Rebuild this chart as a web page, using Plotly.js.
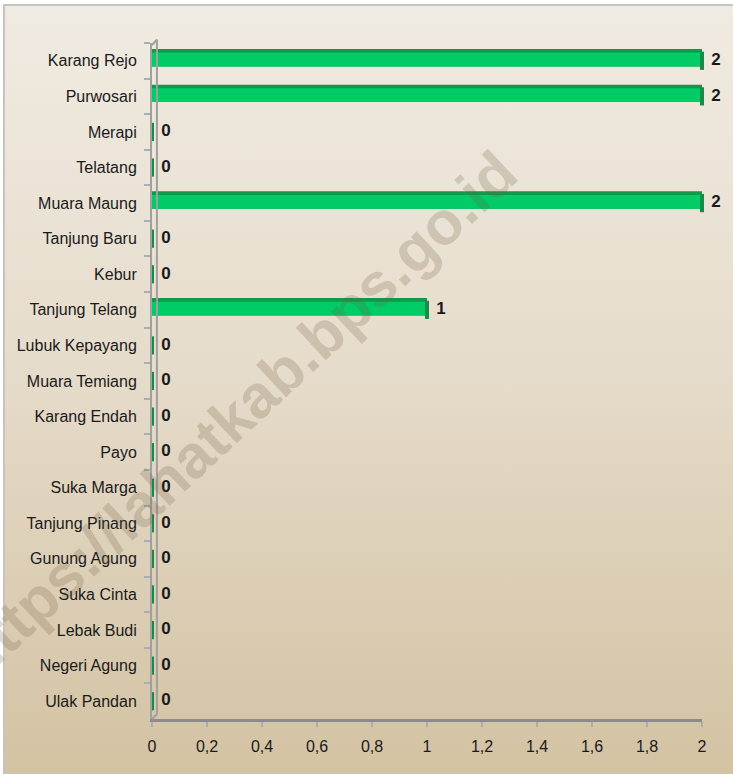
<!DOCTYPE html>
<html>
<head>
<meta charset="utf-8">
<script src="https://cdn.plot.ly/plotly-3.0.1.min.js"></script>
<style>
  html, body { margin:0; padding:0; overflow:hidden; width:733px; height:774px; background:#ffffff; }
  #bg { position:absolute; left:3px; top:4px; width:760px; height:800px; box-sizing:border-box;
        border:2px solid #C4C4C4; background:linear-gradient(to bottom, #F0EBE2 0%, #E6DCCB 45%, #D2C1A0 100%); }
  #chart { position:absolute; left:0; top:0; width:733px; height:774px; }
</style>
</head>
<body>
<div id="bg"></div>
<div id="chart"></div>
<script>
const categories = ['Karang Rejo','Purwosari','Merapi','Telatang','Muara Maung','Tanjung Baru','Kebur',
  'Tanjung Telang','Lubuk Kepayang','Muara Temiang','Karang Endah','Payo','Suka Marga','Tanjung Pinang',
  'Gunung Agung','Suka Cinta','Lebak Budi','Negeri Agung','Ulak Pandan'];
const values = [2,2,0,0,2,0,0,1,0,0,0,0,0,0,0,0,0,0,0];
const xTickVals = [0,0.2,0.4,0.6,0.8,1,1.2,1.4,1.6,1.8,2];
const xTickText = ['0','0,2','0,4','0,6','0,8','1','1,2','1,4','1,6','1,8','2'];
const watermark = 'https://lahatkab.bps.go.id';

const FONT = '"Liberation Sans Narrow", "Arial Narrow", "Liberation Sans", sans-serif';

const traces = [
  { type:'bar', orientation:'h', x:values, y:categories, width:0.49, offset:-0.33,
    marker:{color:'#0E9A4C', line:{width:0}}, hoverinfo:'skip', showlegend:false },
  { type:'bar', orientation:'h', x:values, y:categories, width:0.39, offset:-0.23,
    marker:{color:'#00CC66', line:{width:0}}, hoverinfo:'skip', showlegend:false },
  { type:'scatter', mode:'markers+text', x:values, y:categories,
    marker:{symbol:'line-ns', size:13, line:{width:4, color:'#128F46'}},
    text:values.map(String), textposition:'middle right',
    textfont:{family:FONT, size:17, color:'#1A1A1A', weight:'bold'},
    cliponaxis:false, hoverinfo:'skip', showlegend:false }
];

const layout = {
  width:733, height:774,
  margin:{l:152, r:31, t:43, b:55},
  paper_bgcolor:'rgba(0,0,0,0)', plot_bgcolor:'rgba(0,0,0,0)',
  barmode:'overlay',
  showlegend:false,
  font:{family:FONT, size:16, color:'#1A1A1A'},
  xaxis:{range:[0,2], tickvals:xTickVals, ticktext:xTickText, showgrid:false, zeroline:false,
         showline:true, linecolor:'#8C8C8C', linewidth:3, ticks:'outside', ticklen:5, tickwidth:2,
         tickcolor:'#A7AEB5', ticklabelstandoff:6, tickfont:{family:FONT, size:16, color:'#1A1A1A'}},
  yaxis:{type:'category', categoryorder:'array', categoryarray:categories, range:[18.5,-0.5],
         showgrid:false, zeroline:false, showline:true, linecolor:'#A0A0A0', linewidth:2,
         ticks:'outside', tickson:'boundaries', ticklen:6, tickwidth:2, tickcolor:'#A7AEB5',
         ticklabelstandoff:10, tickfont:{family:FONT, size:16, color:'#1A1A1A'}},
  shapes:[
    {type:'line', xref:'paper', yref:'paper', x0:0.009, x1:0.009, y0:0.007, y1:1.005, line:{color:'#A0A0A0', width:2}},
    {type:'line', xref:'paper', yref:'paper', x0:0, x1:0.009, y0:0.997, y1:1.005, line:{color:'#A0A0A0', width:2}},
    {type:'line', xref:'paper', yref:'paper', x0:0, x1:0.009, y0:0, y1:0.007, line:{color:'#A0A0A0', width:2}}
  ],
  annotations:[
    {text:watermark, xref:'paper', yref:'paper', x:0.153, y:0.45, xanchor:'center', yanchor:'middle',
     showarrow:false, textangle:-43,
     font:{family:'"Liberation Sans", Arial, sans-serif', size:61, color:'rgba(110,90,65,0.22)', weight:'bold'}}
  ]
};

Plotly.newPlot('chart', traces, layout, {displayModeBar:false, staticPlot:true});
</script>
</body>
</html>
